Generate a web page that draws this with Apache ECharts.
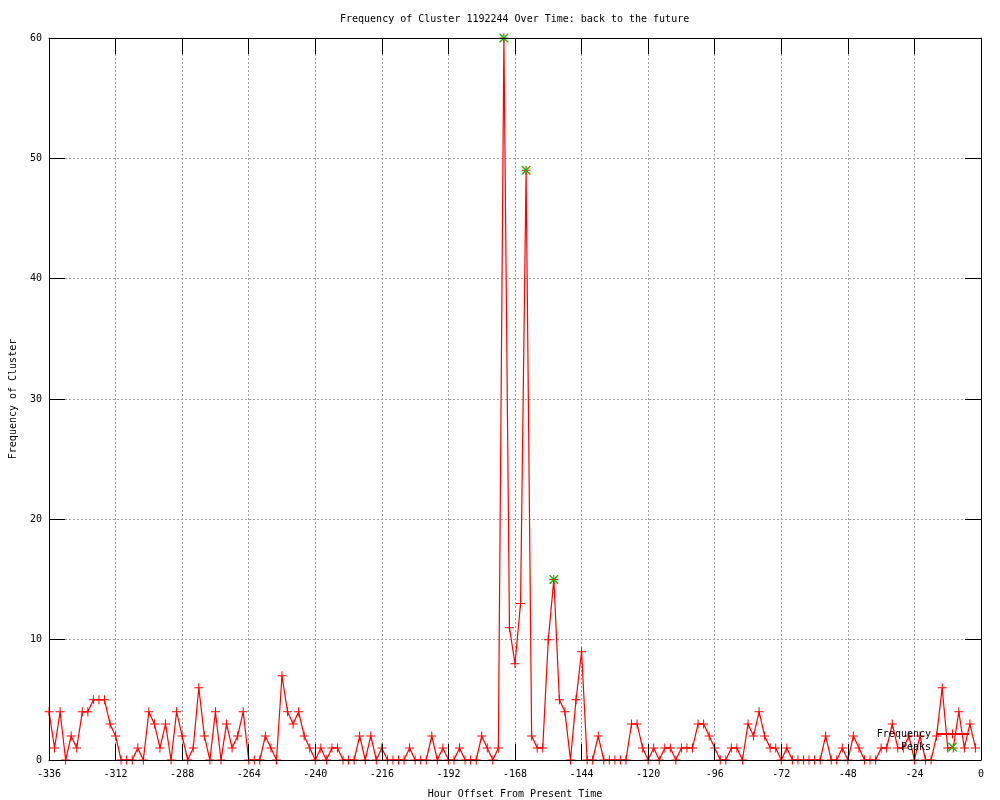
<!DOCTYPE html>
<html><head><meta charset="utf-8">
<script src="https://cdn.jsdelivr.net/npm/echarts@6/dist/echarts.min.js"></script>
<style>html,body{margin:0;padding:0;background:#fff}#c{width:1000px;height:800px}</style>
</head><body><div id="c"></div>
<script>
// Hour offsets (x values)
const hours = [
  -336,-334,-332,-330,-328,-326,-324,-322,-320,-318,-316,-314,
  -312,-310,-308,-306,-304,-302,-300,-298,-296,-294,-292,-290,
  -288,-286,-284,-282,-280,-278,-276,-274,-272,-270,-268,-266,
  -264,-262,-260,-258,-256,-254,-252,-250,-248,-246,-244,-242,
  -240,-238,-236,-234,-232,-230,-228,-226,-224,-222,-220,-218,
  -216,-214,-212,-210,-208,-206,-204,-202,-200,-198,-196,-194,
  -192,-190,-188,-186,-184,-182,-180,-178,-176,-174,-172,-170,
  -168,-166,-164,-162,-160,-158,-156,-154,-152,-150,-148,-146,
  -144,-142,-140,-138,-136,-134,-132,-130,-128,-126,-124,-122,
  -120,-118,-116,-114,-112,-110,-108,-106,-104,-102,-100,-98,
  -96,-94,-92,-90,-88,-86,-84,-82,-80,-78,-76,-74,
  -72,-70,-68,-66,-64,-62,-60,-58,-56,-54,-52,-50,
  -48,-46,-44,-42,-40,-38,-36,-34,-32,-30,-28,-26,
  -24,-22,-20,-18,-16,-14,-12,-10,-8,-6,-4,-2
];
// Frequency values
const frequency = [
  4,1,4,0,2,1,4,4,5,5,5,3,
  2,0,0,0,1,0,4,3,1,3,0,4,
  2,0,1,6,2,0,4,0,3,1,2,4,
  0,0,0,2,1,0,7,4,3,4,2,1,
  0,1,0,1,1,0,0,0,2,0,2,0,
  1,0,0,0,0,1,0,0,0,2,0,1,
  0,0,1,0,0,0,2,1,0,1,60,11,
  8,13,49,2,1,1,10,15,5,4,0,5,
  9,0,0,2,0,0,0,0,0,3,3,1,
  0,1,0,1,1,0,1,1,1,3,3,2,
  1,0,0,1,1,0,3,2,4,2,1,1,
  0,1,0,0,0,0,0,0,2,0,0,1,
  0,2,1,0,0,0,1,1,3,1,1,2,
  0,2,0,0,2,6,1,1,4,1,3,1
];
// Peaks
const peakHours = [-172, -164, -154];
const peakValues = [60, 49, 15];
// Axis ticks
const xMin = -336, xMax = 0, xStep = 24;
const yMin = 0, yMax = 60, yStep = 10;

const FONT = 'DejaVu Sans Mono';
const PLUS = 'path://M4,0H5V4H9V5H5V9H4V5H0V4H4Z';
const CROSS = 'path://M0,0L1,0L9,8L9,9L8,9L0,1Z M8,0L9,0L9,1L1,9L0,9L0,8Z';

const freqData = hours.map((h, i) => [h, frequency[i]]);
const peakData = peakHours.map((h, i) => [h, peakValues[i]]);

const txt = {fontFamily: FONT, fontSize: 10, color: '#000'};
const black = {color: '#000', width: 1};

function xAx(extra) {
  return Object.assign({
    type: 'value', min: xMin, max: xMax, interval: xStep,
    axisLine: {show: true, onZero: false, lineStyle: black},
    axisTick: {show: true, inside: true, length: 16, lineStyle: black},
    axisLabel: {show: false},
    splitLine: {show: false}, z: 5
  }, extra);
}
function yAx(extra) {
  return Object.assign({
    type: 'value', min: yMin, max: yMax, interval: yStep,
    axisLine: {show: true, onZero: false, lineStyle: black},
    axisTick: {show: true, inside: true, length: 16, lineStyle: black},
    axisLabel: {show: false},
    splitLine: {show: false}, z: 5
  }, extra);
}
const gridLine = {show: true, lineStyle: {color: '#a0a0a0', width: 1, type: [2, 2]}};

const chart = echarts.init(document.getElementById('c'), null, {renderer: 'canvas'});
chart.setOption({
  animation: false,
  backgroundColor: '#fff',
  title: {
    text: 'Frequency of Cluster 1192244 Over Time: back to the future',
    left: 340, top: 14, padding: 0,
    textStyle: Object.assign({fontWeight: 'normal'}, txt)
  },
  grid: {left: 49, right: 19, top: 38, bottom: 40, containLabel: false, outerBoundsMode: 'none'},
  legend: {
    data: ['Frequency', 'Peaks'],
    orient: 'vertical', right: 30, top: 729, align: 'right', padding: 0,
    itemWidth: 33, itemHeight: 11, itemGap: 3,
    textStyle: txt, selectedMode: false
  },
  xAxis: [
    xAx({position: 'bottom',
      axisLabel: Object.assign({show: true, margin: 9}, txt),
      name: 'Hour Offset From Present Time', nameLocation: 'middle', nameGap: 29,
      nameTextStyle: txt}),
    xAx({position: 'top'}),
    xAx({position: 'bottom', axisLine: {show: false}, axisTick: {show: false},
      splitLine: gridLine, z: 0})
  ],
  yAxis: [
    yAx({position: 'left',
      axisLabel: Object.assign({show: true, margin: 7}, txt),
      name: 'Frequency of Cluster', nameLocation: 'middle', nameGap: 31,
      nameTextStyle: txt}),
    yAx({position: 'right'}),
    yAx({position: 'left', axisLine: {show: false}, axisTick: {show: false},
      splitLine: gridLine, z: 0})
  ],
  series: [
    {
      name: 'Frequency', type: 'line', xAxisIndex: 0, yAxisIndex: 0,
      data: freqData, symbol: PLUS, symbolSize: 9, showSymbol: true,
      lineStyle: {color: '#ff0000', width: 1.2},
      itemStyle: {color: '#ff0000'}, z: 2, clip: false
    },
    {
      name: 'Peaks', type: 'line', xAxisIndex: 0, yAxisIndex: 0,
      data: peakData, symbol: CROSS, symbolSize: 9,
      lineStyle: {width: 0, opacity: 0},
      itemStyle: {color: '#00c000'}, z: 3, clip: false
    }
  ]
});
</script>
</body></html>
